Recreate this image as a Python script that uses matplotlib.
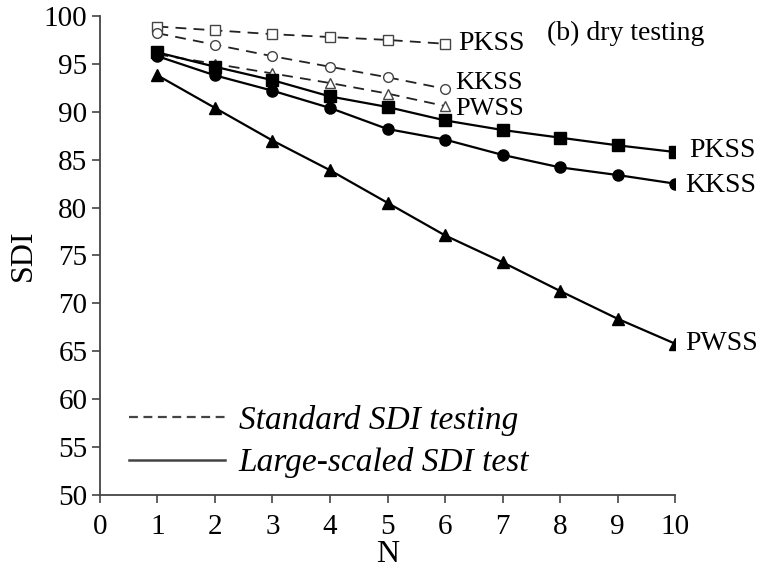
import matplotlib
matplotlib.use("Agg")
import matplotlib.pyplot as plt
from matplotlib.lines import Line2D

N_std = [1, 2, 3, 4, 5, 6]
N_large = [1, 2, 3, 4, 5, 6, 7, 8, 9, 10]

pkss_std = [98.9, 98.5, 98.1, 97.8, 97.5, 97.1]
kkss_std = [98.2, 97.0, 95.8, 94.7, 93.6, 92.4]
pwss_std = [96.0, 95.0, 94.0, 93.0, 91.9, 90.6]

pkss_large = [96.2, 94.7, 93.3, 91.6, 90.5, 89.1, 88.1, 87.3, 86.5, 85.8]
kkss_large = [95.8, 93.8, 92.2, 90.4, 88.2, 87.1, 85.5, 84.2, 83.4, 82.5]
pwss_large = [93.8, 90.4, 87.0, 83.9, 80.5, 77.1, 74.3, 71.3, 68.4, 65.8]

x_ticks = list(range(0, 11))
y_ticks = list(range(50, 101, 5))

plt.rcParams['font.family'] = ['Liberation Serif', 'DejaVu Serif']

fig = plt.figure(figsize=(7.61, 5.81), dpi=100)
ax = fig.add_axes([0.1314, 0.148, 0.887 - 0.1314, 0.9725 - 0.148])

dash = (0, (6, 4))
dcol = '#222222'
ax.plot(N_std, pkss_std, linestyle=dash, color=dcol, lw=1.3, marker='s', ms=7,
        mfc='white', mec='#444444', mew=1.0, zorder=2)
ax.plot(N_std, kkss_std, linestyle=dash, color=dcol, lw=1.3, marker='o', ms=7,
        mfc='white', mec='#444444', mew=1.0, zorder=2)
ax.plot(N_std, pwss_std, linestyle=dash, color=dcol, lw=1.3, marker='^', ms=7,
        mfc='white', mec='#444444', mew=1.0, zorder=2)

ax.plot(N_large, pkss_large, '-', color='black', lw=1.6, marker='s', ms=8, zorder=3)
ax.plot(N_large, kkss_large, '-', color='black', lw=1.6, marker='o', ms=8, zorder=3)
ax.plot(N_large, pwss_large, '-', color='black', lw=1.6, marker='^', ms=9, zorder=3)

fs = 20
lfs = 20
# end labels
ax.annotate('PKSS', (N_std[-1], pkss_std[-1]), xytext=(13, 0), textcoords='offset pixels',
            ha='left', va='center', fontsize=lfs)
ax.annotate('KKSS', (N_std[-1], kkss_std[-1]), xytext=(10, 6), textcoords='offset pixels',
            ha='left', va='center', fontsize=19)
ax.annotate('PWSS', (N_std[-1], pwss_std[-1]), xytext=(10, -3), textcoords='offset pixels',
            ha='left', va='center', fontsize=19)
ax.annotate('PKSS', (N_large[-1], pkss_large[-1]), xytext=(14, 2), textcoords='offset pixels',
            ha='left', va='center', fontsize=lfs)
ax.annotate('KKSS', (N_large[-1], kkss_large[-1]), xytext=(10, -2), textcoords='offset pixels',
            ha='left', va='center', fontsize=lfs)
ax.annotate('PWSS', (N_large[-1], pwss_large[-1]), xytext=(10, 0), textcoords='offset pixels',
            ha='left', va='center', fontsize=lfs)

ax.text(0.778, 0.99, '(b) dry testing', transform=ax.transAxes, fontsize=lfs,
        ha='left', va='top')

ax.set_xlim(0, 10)
ax.set_ylim(50, 100)
ax.set_xticks(x_ticks)
ax.set_yticks(y_ticks)
ax.tick_params(axis='both', labelsize=fs + 1, direction='out', length=6, width=1.2, color='#444444')
ax.tick_params(axis='x', pad=8)
ax.tick_params(axis='y', pad=3)
for s in ['top', 'right']:
    ax.spines[s].set_visible(False)
for s in ['left', 'bottom']:
    ax.spines[s].set_linewidth(1.3)
    ax.spines[s].set_color('#444444')

ax.set_xlabel('N', fontsize=fs + 3, labelpad=0)
ax.set_ylabel('SDI', fontsize=fs + 3, labelpad=4)

handles = [Line2D([], [], color='#444444', lw=1.6, linestyle=(0, (4, 2.5))),
           Line2D([], [], color='#444444', lw=1.8, linestyle='-')]
leg = ax.legend(handles, ['Standard SDI testing', 'Large-scaled SDI test'],
                loc='lower left', bbox_to_anchor=(0.05, 0.035), frameon=False,
                borderpad=0, borderaxespad=0,
                prop={'family': 'Liberation Serif', 'style': 'italic', 'size': 24},
                handlelength=2.9, handletextpad=0.4, labelspacing=0.35)

fig.savefig('out.png', dpi=100)
